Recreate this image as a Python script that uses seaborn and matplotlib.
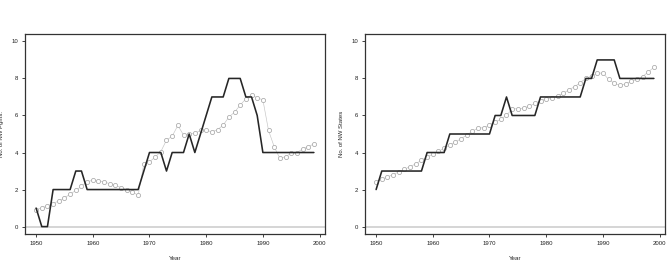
import pandas as pd
import matplotlib
matplotlib.use('Agg')
import matplotlib.pyplot as plt
import seaborn as sns

#%% data
years = list(range(1950, 2000))

nw_pgms = [1, 0, 0, 2, 2, 2, 2, 3, 3, 2,
           2, 2, 2, 2, 2, 2, 2, 2, 2, 3,
           4, 4, 4, 3, 4, 4, 4, 5, 4, 5,
           6, 7, 7, 7, 8, 8, 8, 7, 7, 6,
           4, 4, 4, 4, 4, 4, 4, 4, 4, 4]

nw_pgms_smooth = [0.92, 1.00, 1.13, 1.24, 1.39, 1.55, 1.75, 1.95, 2.18, 2.43,
                  2.50, 2.45, 2.41, 2.32, 2.22, 2.11, 2.00, 1.87, 1.69, 3.37,
                  3.50, 3.75, 4.05, 4.67, 4.88, 5.46, 4.95, 5.00, 5.03, 5.20,
                  5.20, 5.12, 5.23, 5.48, 5.91, 6.18, 6.56, 6.90, 7.12, 6.95,
                  6.85, 5.19, 4.31, 3.68, 3.78, 3.95, 3.98, 4.20, 4.31, 4.47]

nw_states = [2, 3, 3, 3, 3, 3, 3, 3, 3, 4,
             4, 4, 4, 5, 5, 5, 5, 5, 5, 5,
             5, 6, 6, 7, 6, 6, 6, 6, 6, 7,
             7, 7, 7, 7, 7, 7, 7, 8, 8, 9,
             9, 9, 9, 8, 8, 8, 8, 8, 8, 8]

nw_states_smooth = [2.41, 2.56, 2.68, 2.81, 2.95, 3.10, 3.24, 3.39, 3.58, 3.77,
                    3.91, 4.07, 4.23, 4.41, 4.58, 4.74, 4.95, 5.15, 5.33, 5.33,
                    5.50, 5.65, 5.80, 6.00, 6.36, 6.36, 6.40, 6.50, 6.65, 6.80,
                    6.90, 6.95, 7.06, 7.19, 7.39, 7.55, 7.77, 8.00, 8.14, 8.27,
                    8.30, 7.95, 7.75, 7.62, 7.70, 7.85, 7.95, 8.10, 8.35, 8.60]

ylabels = ['No. of NW Pgms.', 'No. of NW States']

df = pd.DataFrame({'year': years,
                   'pgms': nw_pgms, 'pgms_s': nw_pgms_smooth,
                   'states': nw_states, 'states_s': nw_states_smooth})

#%% style
sns.set_style('ticks')
plt.rcParams['font.family'] = ['Liberation Sans', 'DejaVu Sans']

fig = plt.figure(figsize=(6.69, 2.6), dpi=100)
ax1 = fig.add_axes([25/669, 26/260, 300/669, 200/260])
ax2 = fig.add_axes([365/669, 26/260, 300/669, 200/260])

for ax, col, lab in [(ax1, 'pgms', ylabels[0]), (ax2, 'states', ylabels[1])]:
    ax.axhline(0, color='#d2d2d2', lw=1.3, zorder=1)
    sns.lineplot(data=df, x='year', y=col + '_s', ax=ax, color='#c4c4c4', lw=0.45,
                 marker='o', markersize=3.0, markerfacecolor='white',
                 markeredgecolor='#a8a8a8', markeredgewidth=0.55, zorder=2)
    sns.lineplot(data=df, x='year', y=col, ax=ax, color='#262626', lw=1.15, zorder=3)
    ax.set_xlim(1948.04, 2000.96)
    ax.set_ylim(-0.4, 10.4)
    ax.set_xticks([1950, 1960, 1970, 1980, 1990, 2000])
    ax.set_yticks([0, 2, 4, 6, 8, 10])
    ax.tick_params(length=2.5, width=0.6, labelsize=4.3, pad=2.5, colors='#222')
    for s in ax.spines.values():
        s.set_visible(True)
        s.set_linewidth(0.9)
        s.set_color('#333333')
    ax.set_xlabel('Year', fontsize=4.5, labelpad=7)
    ax.set_ylabel(lab, fontsize=4.3, labelpad=5)

fig.savefig('out.png', dpi=100)
